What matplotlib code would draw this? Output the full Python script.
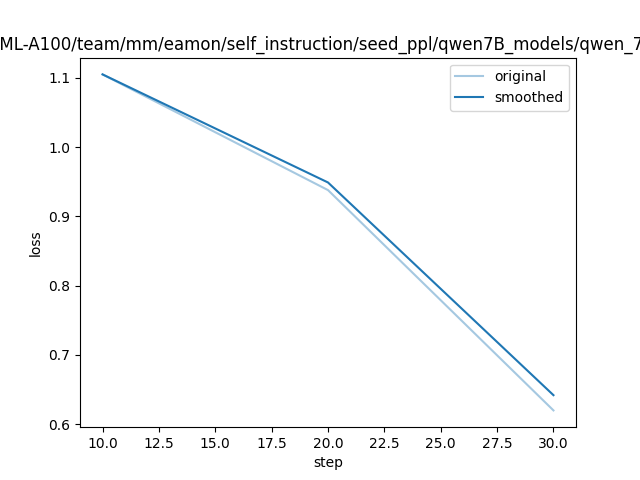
import matplotlib
matplotlib.use("Agg")
import matplotlib.pyplot as plt

steps = [10, 20, 30]
original = [1.105, 0.938, 0.620]
smoothed = [1.105, 0.949, 0.642]

title = ("training loss of /mnt/bn/ML-A100/team/mm/eamon/self_instruction/"
         "seed_ppl/qwen7B_models/qwen_7B_seed_ppl_sft_3ep_lr1e5")

fig = plt.figure(figsize=(6.4, 4.8), dpi=100)
plt.plot(steps, original, color="#1f77b4", alpha=0.4, label="original")
plt.plot(steps, smoothed, color="#1f77b4", label="smoothed")
plt.title(title)
plt.xlabel("step")
plt.ylabel("loss")
plt.legend()
plt.savefig("out.png")
